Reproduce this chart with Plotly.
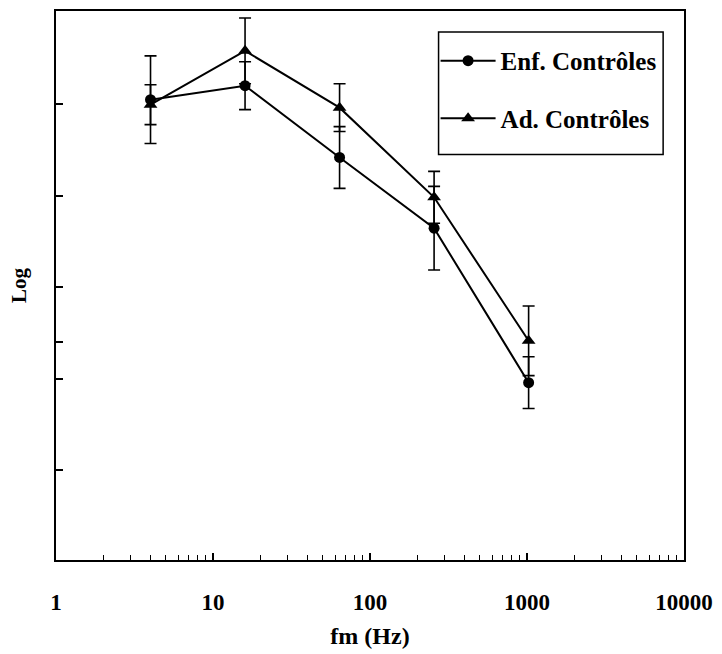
import plotly.graph_objects as go

# Data (arbitrary linear "Log" units)
fm_hz = [4, 16, 64, 256, 1024]
enf_vals = [46.2, 47.6, 40.4, 33.3, 17.8]
enf_err = [4.4, 2.4, 3.1, 4.2, 2.6]
ad_vals = [45.7, 51.1, 45.4, 36.4, 22.0]
ad_err = [2.0, 3.3, 2.4, 2.6, 3.5]
y_ticks = [45.8, 36.5, 27.4, 21.9, 18.2, 9.0]
x_ticks = [1, 10, 100, 1000, 10000]
x_ticktext = ["1", "10", "100", "1000", "10000"]

FONT = "Liberation Serif"
W, H = 722, 654
L, R, T, B = 56, 34, 9, 94
pw, ph = W - L - R, H - T - B

def px_x(x):
    return (x - L) / pw

def px_y(y):
    return (H - B - y) / ph

fig = go.Figure()
fig.add_trace(go.Scatter(
    x=fm_hz, y=enf_vals, name="Enf. Contrôles", mode="lines+markers",
    legendgroup="a",
    line=dict(color="black", width=2),
    marker=dict(symbol="circle", size=11, color="black"),
    error_y=dict(type="data", array=enf_err, color="black", thickness=1.6, width=6),
))
fig.add_trace(go.Scatter(
    x=fm_hz, y=ad_vals, name="Ad. Contrôles", mode="lines+markers",
    legendgroup="b",
    line=dict(color="black", width=2),
    marker=dict(symbol="triangle-up", size=12, color="black"),
    error_y=dict(type="data", array=ad_err, color="black", thickness=1.6, width=6),
))

fig.update_layout(
    width=W, height=H,
    margin=dict(l=L, r=R, t=T, b=B),
    paper_bgcolor="white", plot_bgcolor="white",
    font=dict(family=FONT, color="black", size=21),
    showlegend=True,
    legend=dict(
        x=px_x(438), y=px_y(36), xanchor="left", yanchor="top",
        bgcolor="rgba(0,0,0,0)", borderwidth=0,
        font=dict(family=FONT, size=25, color="black", weight="bold"),
        itemwidth=55, tracegroupgap=22, traceorder="grouped",
    ),
    shapes=[dict(type="rect", xref="paper", yref="paper",
                 x0=px_x(441), x1=px_x(667), y0=px_y(153), y1=px_y(30),
                 line=dict(color="black", width=1.5))],
)

fig.update_xaxes(
    type="log", range=[0, 4],
    tickvals=x_ticks, ticktext=x_ticktext,
    ticks="inside", ticklen=7, tickcolor="black", tickwidth=1.5,
    tickfont=dict(family=FONT, size=23, color="black", weight="bold"),
    ticklabelstandoff=20,
    minor=dict(ticks="inside", ticklen=5, tickcolor="black", tickwidth=1.2, dtick="D1", showgrid=False),
    showline=True, linecolor="black", linewidth=2, mirror=True,
    showgrid=False, zeroline=False,
    title=dict(text="<b>fm (Hz)</b>", font=dict(family=FONT, size=24, color="black"), standoff=14),
)
fig.update_yaxes(
    range=[0, ph / 10.0],
    tickvals=y_ticks, showticklabels=False,
    ticks="inside", ticklen=7, tickcolor="black", tickwidth=1.5,
    showline=True, linecolor="black", linewidth=2, mirror=True,
    showgrid=False, zeroline=False,
    title=dict(text="<b>Log</b>", font=dict(family=FONT, size=21, color="black"), standoff=22),
)

fig.write_html("out.html")
